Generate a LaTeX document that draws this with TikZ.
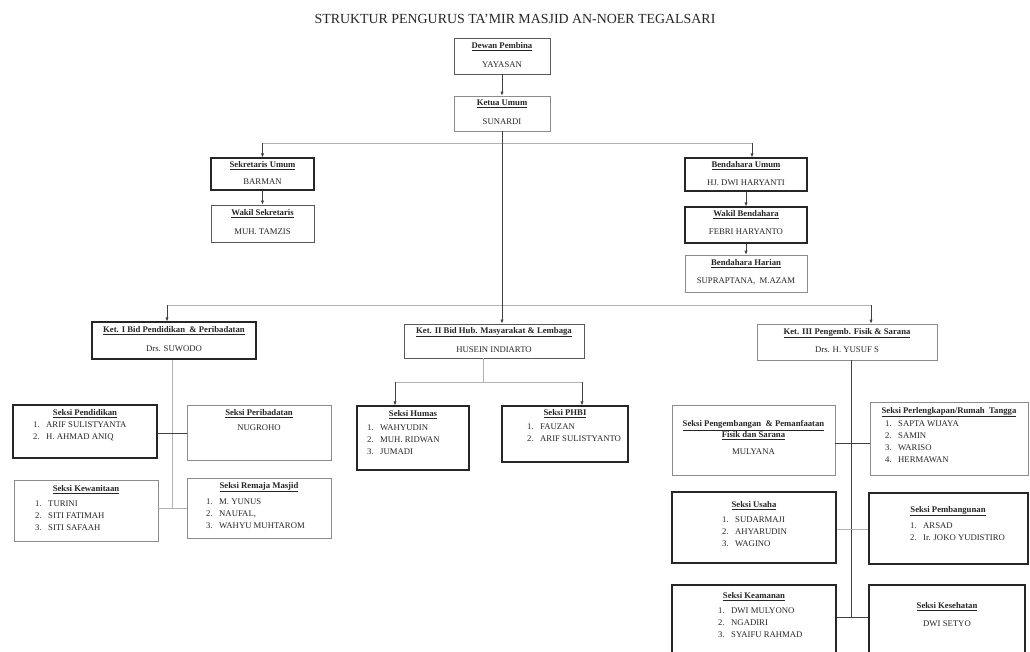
\documentclass[tikz,border=0pt]{standalone}
\usepackage{fontspec}
\setmainfont{Liberation Serif}
\usetikzlibrary{arrows.meta,fit,calc}
\newcommand\hu[1]{\underline{#1}}
\newcommand\li[1]{\makebox[13pt][l]{#1}}
\begin{document}
\begin{tikzpicture}[x=1pt,y=-1pt,
  every node/.style={text=black!85},
  bxA/.style={draw=black!85, line width=1.1pt, inner sep=0pt},
  bxB/.style={draw=black!65, line width=0.8pt, inner sep=0pt},
  bxC/.style={draw=black!45, line width=0.6pt, inner sep=0pt},
  hd/.style={font=\fontsize{8.7}{11}\selectfont\bfseries, inner sep=0pt, align=center},
  nm/.style={font=\fontsize{8.7}{10}\selectfont, inner sep=0pt},
  ls/.style={font=\fontsize{8.7}{11.8}\selectfont, inner sep=0pt, align=left, anchor=north west},
  dk/.style={draw=black!75, line width=0.7pt},
  lt/.style={draw=black!30, line width=0.7pt},
  arr/.style={dk, -{Latex[length=4pt,width=3.2pt]}},
]
\useasboundingbox[fill=white] (0,0) rectangle (1030,652);
\clip (0,0) rectangle (1030,652);

% title
\node[font=\fontsize{13.9}{15}\selectfont, inner sep=0pt] (title) at (515,19) {STRUKTUR PENGURUS TA’MIR MASJID AN-NOER TEGALSARI};

% ---------- top boxes
\node[bxB, fit={(454,38)(550,74)}] (dewan) {};
\node[hd] (dewanH) at (502,47) {\hu{Dewan Pembina}};
\node[nm] (dewanN) at (502,65) {YAYASAN};

\node[bxC, fit={(454,96)(550,131)}] (ketua) {};
\node[hd] (ketuaH) at (502,104) {\hu{Ketua Umum}};
\node[nm] (ketuaN) at (502,122) {SUNARDI};

\node[bxA, fit={(211,158)(314,190)}] (sek) {};
\node[hd] (sekH) at (262.5,166) {\hu{Sekretaris Umum}};
\node[nm] (sekN) at (262.5,182) {BARMAN};

\node[bxB, fit={(211,205)(314,242)}] (wsek) {};
\node[hd] (wsekH) at (262.5,214) {\hu{Wakil Sekretaris}};
\node[nm] (wsekN) at (262.5,232) {MUH. TAMZIS};

\node[bxA, fit={(685,158)(807,191)}] (bend) {};
\node[hd] (bendH) at (746,166) {\hu{Bendahara Umum}};
\node[nm] (bendN) at (746,183) {HJ. DWI HARYANTI};

\node[bxA, fit={(685,207)(807,243)}] (wbend) {};
\node[hd] (wbendH) at (746,215) {\hu{Wakil Bendahara}};
\node[nm] (wbendN) at (746,232) {FEBRI HARYANTO};

\node[bxC, fit={(685,255)(807,292)}] (hbend) {};
\node[hd] (hbendH) at (746,264) {\hu{Bendahara Harian}};
\node[nm] (hbendN) at (746,281) {SUPRAPTANA,\ \ M.AZAM};

% ---------- ketua bidang
\node[bxA, fit={(92,322)(256,359)}] (ket1) {};
\node[hd] (ket1H) at (174,331) {\hu{Ket. I Bid Pendidikan \ \& Peribadatan}};
\node[nm] (ket1N) at (174,349) {Drs. SUWODO};

\node[bxB, fit={(404,324)(584,358)}] (ket2) {};
\node[hd] (ket2H) at (494,332) {\hu{Ket. II Bid Hub. Masyarakat \& Lembaga}};
\node[nm] (ket2N) at (494,350) {HUSEIN INDIARTO};

\node[bxC, fit={(757,324)(937,360)}] (ket3) {};
\node[hd] (ket3H) at (847,333) {\hu{Ket. III Pengemb. Fisik \& Sarana}};
\node[nm] (ket3N) at (847,350) {Drs. H. YUSUF S};

% ---------- bidang I
\node[bxA, fit={(13,405)(157,458)}] (pend) {};
\node[hd] (pendH) at (85,414) {\hu{Seksi Pendidikan}};
\node[ls] (pendL) at (33,422) {\li{1.}ARIF SULISTYANTA\\\li{2.}H. AHMAD ANIQ};

\node[bxC, fit={(187,405)(331,460)}] (perib) {};
\node[hd] (peribH) at (259,414) {\hu{Seksi Peribadatan}};
\node[nm] (peribN) at (259,428) {NUGROHO};

\node[bxC, fit={(14,480)(158,541)}] (kewan) {};
\node[hd] (kewanH) at (86,490) {\hu{Seksi Kewanitaan}};
\node[ls] (kewanL) at (35,501) {\li{1.}TURINI\\\li{2.}SITI FATIMAH\\\li{3.}SITI SAFAAH};

\node[bxC, fit={(187,478)(331,538)}] (remaja) {};
\node[hd] (remajaH) at (259,487) {\hu{Seksi Remaja Masjid}};
\node[ls] (remajaL) at (206,499) {\li{1.}M. YUNUS\\\li{2.}NAUFAL,\\\li{3.}WAHYU MUHTAROM};

% ---------- bidang II
\node[bxA, fit={(357,406)(469,470)}] (humas) {};
\node[hd] (humasH) at (413,415) {\hu{Seksi Humas}};
\node[ls] (humasL) at (367,425) {\li{1.}WAHYUDIN\\\li{2.}MUH. RIDWAN\\\li{3.}JUMADI};

\node[bxA, fit={(502,406)(628,462)}] (phbi) {};
\node[hd] (phbiH) at (565,414) {\hu{Seksi PHBI}};
\node[ls] (phbiL) at (527,424) {\li{1.}FAUZAN\\\li{2.}ARIF SULISTYANTO};

% ---------- bidang III
\node[bxC, fit={(672,405)(835,475)}] (pengem) {};
\node[hd] (pengemH) at (753.5,430) {\hu{Seksi Pengembangan \ \& Pemanfaatan}\\\hu{Fisik dan Sarana}};
\node[nm] (pengemN) at (753.5,452) {MULYANA};

\node[bxC, fit={(870,402)(1028,475)}] (perl) {};
\node[hd] (perlH) at (949,412) {\hu{Seksi Perlengkapan/Rumah \ Tangga}};
\node[ls] (perlL) at (885,421) {\li{1.}SAPTA WIJAYA\\\li{2.}SAMIN\\\li{3.}WARISO\\\li{4.}HERMAWAN};

\node[bxA, fit={(672,492)(836,563)}] (usaha) {};
\node[hd] (usahaH) at (754,506) {\hu{Seksi Usaha}};
\node[ls] (usahaL) at (722,517) {\li{1.}SUDARMAJI\\\li{2.}AHYARUDIN\\\li{3.}WAGINO};

\node[bxA, fit={(869,493)(1028,564)}] (pemb) {};
\node[hd] (pembH) at (948,511) {\hu{Seksi Pembangunan}};
\node[ls] (pembL) at (910,523) {\li{1.}ARSAD\\\li{2.}Ir. JOKO YUDISTIRO};

\node[bxA, fit={(672,585)(836,670)}] (keam) {};
\node[hd] (keamH) at (754,597) {\hu{Seksi Keamanan}};
\node[ls] (keamL) at (718,608) {\li{1.}DWI MULYONO\\\li{2.}NGADIRI\\\li{3.}SYAIFU RAHMAD};

\node[bxA, fit={(869,585)(1025,670)}] (kes) {};
\node[hd] (kesH) at (947,607) {\hu{Seksi Kesehatan}};
\node[nm] (kesN) at (947,624) {DWI SETYO};

% ---------- connectors
\coordinate (tL) at (262.5,143);
\coordinate (tR) at (752,143);
\coordinate (bL) at (167,305);
\coordinate (bR) at (871,305);
\coordinate (s1) at (172,508);
\coordinate (c1) at (172,433);
\coordinate (s2) at (483,382);
\coordinate (hL) at (395,382);
\coordinate (hR) at (582,382);
\coordinate (s3) at (851,617);
\coordinate (c3a) at (851,443);
\coordinate (c3b) at (851,529);

\draw[arr] (dewan.south) -- (ketua.north);
\draw[lt] (tL) -- (tR);
\draw[arr] (tL) -- (tL |- sek.north);
\draw[arr] (tR) -- (tR |- bend.north);
\draw[arr] (sek.south) -- (wsek.north);
\draw[arr] (bend.south) -- (wbend.north);
\draw[arr] (wbend.south) -- (hbend.north);

\draw[lt] (bL) -- (bR);
\draw[arr] (ketua.south) -- (ketua.south |- ket2.north);
\draw[arr] (bL) -- (bL |- ket1.north);
\draw[arr] (bR) -- (bR |- ket3.north);

\draw[lt] (s1 |- ket1.south) -- (s1);
\draw[dk] (c1 -| pend.east) -- (c1 -| perib.west);
\draw[lt] (s1 -| kewan.east) -- (s1 -| remaja.west);

\draw[lt] (s2 |- ket2.south) -- (s2);
\draw[lt] (hL) -- (hR);
\draw[arr] (hL) -- (hL |- humas.north);
\draw[arr] (hR) -- (hR |- phbi.north);

\draw[dk] (s3 |- ket3.south) -- (s3);
\draw[dk] (c3a -| pengem.east) -- (c3a -| perl.west);
\draw[lt] (c3b -| usaha.east) -- (c3b -| pemb.west);
\draw[dk] (s3 -| keam.east) -- (s3 -| kes.west);
\end{tikzpicture}
\end{document}
